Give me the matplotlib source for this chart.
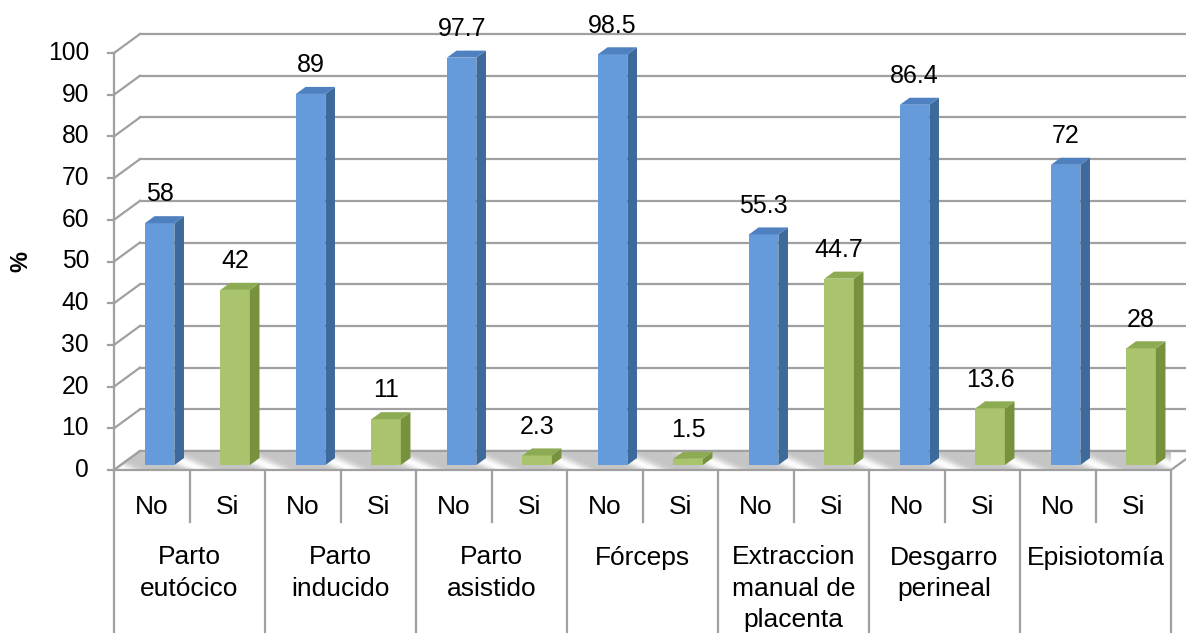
import numpy as np
import matplotlib
matplotlib.use("Agg")
import matplotlib.pyplot as plt
from matplotlib.patches import Polygon

plt.rcParams['font.family'] = ['Liberation Sans', 'DejaVu Sans']

# ---- data -------------------------------------------------------------
groups = ["Parto\neutócico", "Parto\ninducido", "Parto\nasistido", "Fórceps",
          "Extraccion\nmanual de\nplacenta", "Desgarro\nperineal", "Episiotomía"]
answers = ["No", "Si"]
pct_no = [58, 89, 97.7, 98.5, 55.3, 86.4, 72]
pct_si = [42, 11, 2.3, 1.5, 44.7, 13.6, 28]
yticks = list(range(0, 101, 10))
ylabel = "%"

# ---- styling ----------------------------------------------------------
W, H = 1186, 633
AX_L, AX_B, AX_T = 114, 470, 53          # axis frame in pixels
SLOT_PX = 75.5
N_SLOTS = len(groups) * len(answers)
PX_PER_UNIT = (AX_B - AX_T) / 100.0
DEPTH_X = 26 / SLOT_PX                   # 3-D depth offset (data units)
DEPTH_Y = 19 / PX_PER_UNIT
F0, F1 = 0.26, 0.63                      # bar front/back depth fractions
BAR_OFF, BAR_W = 0.32, 0.39

colors = {
    "No": dict(front="#659bdb", side="#3e6a9b", top="#4f80bf"),
    "Si": dict(front="#aac46d", side="#77913f", top="#8dab52"),
}
grid_col = "#a0a0a0"

fig = plt.figure(figsize=(W / 100, H / 100), dpi=100)
ax = fig.add_axes([AX_L / W, (H - AX_B) / H, SLOT_PX * N_SLOTS / W, (AX_B - AX_T) / H])
ax.axis("off")


def px_y(ypx):
    return (AX_B - ypx) / PX_PER_UNIT


def px_x(xpx):
    return (xpx - AX_L) / SLOT_PX


# back wall gridlines and left wall diagonals
for t in yticks:
    ax.plot([DEPTH_X, N_SLOTS + DEPTH_X + 1], [t + DEPTH_Y, t + DEPTH_Y],
            color=grid_col, lw=1.6, clip_on=False, zorder=1)
    ax.plot([0, DEPTH_X], [t, t + DEPTH_Y], color=grid_col, lw=1.6,
            clip_on=False, zorder=1)
    ax.plot([px_x(108), 0], [t, t], color=grid_col, lw=1.6, clip_on=False, zorder=1)
    ax.text(px_x(89), t, str(t), ha="right", va="center", fontsize=17.7,
            color="black")
ax.plot([0, 0], [0, 100], color=grid_col, lw=1.6, clip_on=False, zorder=2)

# floor with streaked grey texture
floor_pts = [(0, 0), (N_SLOTS, 0), (N_SLOTS + DEPTH_X, DEPTH_Y), (DEPTH_X, DEPTH_Y)]
xs = np.linspace(0, N_SLOTS + DEPTH_X, 1600)
ys = np.linspace(0, DEPTH_Y, 40)
XX, YY = np.meshgrid(xs, ys)
phase = XX + (YY / DEPTH_Y) * DEPTH_X * 1.6
streak = (0.5 + 0.5 * np.cos(2 * np.pi * (phase - 0.15))) ** 3
tex = 0.77 + 0.22 * streak
img = ax.imshow(tex, extent=[0, N_SLOTS + DEPTH_X, 0, DEPTH_Y], origin="lower",
                cmap="gray", vmin=0, vmax=1, aspect="auto", zorder=2,
                interpolation="bilinear")
img.set_clip_path(Polygon(floor_pts, closed=True, transform=ax.transData))
ax.add_patch(Polygon(floor_pts, closed=True, facecolor="none", edgecolor=grid_col,
                     lw=1.6, clip_on=False, zorder=3))
ax.set_xlim(0, N_SLOTS)
ax.set_ylim(0, 100)

# 3-D columns
dx = (F1 - F0) * DEPTH_X
dy = (F1 - F0) * DEPTH_Y
for g in range(len(groups)):
    for k, (ans, vals) in enumerate(zip(answers, [pct_no, pct_si])):
        v = vals[g]
        slot = g * 2 + k
        c = colors[ans]
        x0 = slot + BAR_OFF + F0 * DEPTH_X
        y0 = F0 * DEPTH_Y
        x1 = x0 + BAR_W
        y1 = y0 + v
        ax.bar(x0, v, width=BAR_W, bottom=y0, align="edge", color=c["front"],
               edgecolor="none", zorder=5, clip_on=False)
        ax.add_patch(Polygon([(x1, y0), (x1 + dx, y0 + dy), (x1 + dx, y1 + dy), (x1, y1)],
                             closed=True, facecolor=c["side"], edgecolor="none",
                             zorder=5, clip_on=False))
        ax.add_patch(Polygon([(x0, y1), (x1, y1), (x1 + dx, y1 + dy), (x0 + dx, y1 + dy)],
                             closed=True, facecolor=c["top"], edgecolor="none",
                             zorder=5, clip_on=False))
        ax.annotate(f"{v:g}", xy=((x0 + x1) / 2, y1 + dy), xytext=(0, 7),
                    textcoords="offset points", ha="center", va="bottom",
                    fontsize=18, color="black", zorder=6, annotation_clip=False)

# category table below the floor
for b in range(N_SLOTS + 1):
    bottom_px = H if b % 2 == 0 else 522
    ax.plot([b, b], [0, px_y(bottom_px)], color=grid_col, lw=1.6,
            clip_on=False, zorder=2)
for s in range(N_SLOTS):
    ax.text(s + 0.5, px_y(514), answers[s % 2], ha="center", va="baseline",
            fontsize=19, color="black")
for g, name in enumerate(groups):
    for li, line in enumerate(name.split("\n")):
        ax.text(2 * g + 1, px_y(564.5 + 31.5 * li), line, ha="center",
                va="baseline", fontsize=19, color="black")

fig.text(21 / W, 1 - 262 / H, ylabel, rotation=90, ha="center", va="center",
         fontsize=17, fontweight="bold")

fig.savefig("out.png", dpi=100, facecolor="white")
